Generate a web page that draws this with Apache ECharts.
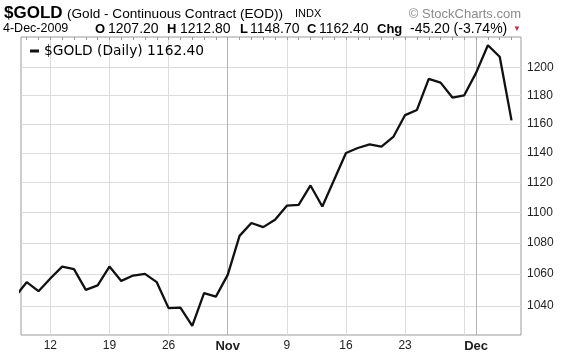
<!DOCTYPE html>
<html>
<head>
<meta charset="utf-8">
<script src="https://cdn.jsdelivr.net/npm/echarts@6/dist/echarts.min.js"></script>
<style>
  html, body { margin: 0; padding: 0; background: #fff; }
  #chart { width: 576px; height: 356px; }
</style>
</head>
<body>
<div id="chart"></div>
<script>
// trading days, 7-Oct-2009 .. 4-Dec-2009
var dates = [
  'Oct 7','Oct 8','Oct 9','Oct 12','Oct 13','Oct 14','Oct 15','Oct 16',
  'Oct 19','Oct 20','Oct 21','Oct 22','Oct 23','Oct 26','Oct 27','Oct 28','Oct 29','Oct 30',
  'Nov 2','Nov 3','Nov 4','Nov 5','Nov 6','Nov 9','Nov 10','Nov 11','Nov 12','Nov 13',
  'Nov 16','Nov 17','Nov 18','Nov 19','Nov 20','Nov 23','Nov 24','Nov 25','Nov 26','Nov 27',
  'Nov 30','Dec 1','Dec 2','Dec 3','Dec 4'
];
var closes = [
  1045.5, 1054.9, 1049.2, 1057.2, 1064.8, 1063.2, 1050.0, 1052.9,
  1064.8, 1055.7, 1059.1, 1060.2, 1054.9, 1038.6, 1038.9, 1027.6, 1048.0, 1045.8,
  1059.5, 1084.6, 1093.0, 1090.3, 1095.1, 1104.4, 1105.0, 1117.9, 1103.9, 1121.7,
  1139.9, 1143.3, 1145.8, 1144.2, 1150.9, 1166.1, 1169.7, 1191.7, 1189.0, 1178.4,
  1180.0, 1196.0, 1216.0, 1207.6, 1162.4
];
var labelDays = ['Oct 12','Oct 19','Oct 26','Nov 2','Nov 9','Nov 16','Nov 23','Dec 1'];
var labelTexts = ['12','19','26','Nov','9','16','23','Dec'];
var gridDays = ['Oct 12','Oct 19','Oct 26','Nov 2','Nov 9','Nov 16','Nov 23','Nov 30','Dec 1'];
var monthDays = ['Nov 2','Dec 1'];
var priceTicks = [1040, 1060, 1080, 1100, 1120, 1140, 1160, 1180, 1200];

var idx = function (d) { return dates.indexOf(d); };
var seriesData = closes.map(function (v, i) { return [i, v]; });
var allDays = dates.map(function (d, i) { return i; });

var xMin = 0.52, xMax = 42.8;
var font = '"Liberation Sans", Arial, sans-serif';

var txt = function (x, y, text, f, extra) {
  var style = { text: text, font: f, fill: '#000', verticalAlign: 'middle' };
  for (var k in (extra || {})) style[k] = extra[k];
  return { type: 'text', x: x, y: y, style: style };
};

var chart = echarts.init(document.getElementById('chart'));

var option = {
  backgroundColor: '#fff',
  animation: false,
  grid: {
    left: 21, top: 37, width: 500, height: 298,
    show: true, borderColor: '#9a9a9a', borderWidth: 1, backgroundColor: '#fff'
  },
  legend: {
    left: 25, top: 39,
    icon: 'rect', itemWidth: 9, itemHeight: 3, itemGap: 5,
    textStyle: { fontFamily: '"DejaVu Sans", Verdana, sans-serif', fontSize: 13.8, color: '#000', padding: [0, 0, 0, 0] },
    formatter: function (name) { return name + ' ' + closes[closes.length - 1].toFixed(2); },
    data: ['$GOLD (Daily)']
  },
  xAxis: [
    {
      type: 'value', min: xMin, max: xMax,
      axisLine: { show: false },
      axisTick: { show: false, customValues: gridDays.map(idx) },
      splitLine: { show: true, lineStyle: { color: '#dcdcdc', width: 1 } },
      axisLabel: {
        customValues: labelDays.map(idx),
        margin: 5,
        fontFamily: font, fontSize: 12, color: '#222',
        formatter: function (v) {
          var t = labelTexts[labelDays.indexOf(dates[Math.round(v)])];
          return (t === 'Nov' || t === 'Dec') ? '{b|' + t + '}' : t;
        },
        rich: { b: { fontFamily: font, fontSize: 13, fontWeight: 'bold', color: '#222' } }
      }
    },
    {
      type: 'value', min: xMin, max: xMax,
      axisLine: { show: false },
      axisTick: { show: true, inside: true, length: 3, customValues: allDays, lineStyle: { color: '#999' } },
      splitLine: { show: false },
      axisLabel: { show: false }
    },
    {
      type: 'value', min: xMin, max: xMax,
      axisLine: { show: false },
      axisTick: { show: false, customValues: monthDays.map(idx) },
      splitLine: { show: true, lineStyle: { color: '#b4b4b4', width: 1 } },
      axisLabel: { show: false }
    }
  ],
  yAxis: {
    type: 'log', logBase: 10, position: 'right',
    min: 1022, max: 1222,
    axisLine: { show: false },
    axisTick: { show: false, customValues: priceTicks },
    splitLine: { show: true, lineStyle: { color: '#dcdcdc', width: 1 } },
    axisLabel: {
      customValues: priceTicks,
      margin: 6,
      fontFamily: font, fontSize: 12, color: '#222',
      formatter: function (v) { return String(Math.round(v)); }
    }
  },
  graphic: [
    txt(4, 13, '$GOLD', 'bold 17px ' + font),
    txt(67, 14, '(Gold - Continuous Contract (EOD))', '13.6px ' + font),
    txt(295, 14, 'INDX', '11px ' + font),
    txt(521, 14, '\u00a9 StockCharts.com', '13px ' + font, { fill: '#8a8a8a', align: 'right' }),
    txt(3, 29, '4-Dec-2009', '12.5px ' + font),
    txt(95, 29, 'O', 'bold 13px ' + font),
    txt(108, 29, '1207.20', '14px ' + font),
    txt(167, 29, 'H', 'bold 13px ' + font),
    txt(180, 29, '1212.80', '14px ' + font),
    txt(240, 29, 'L', 'bold 13px ' + font),
    txt(250, 29, '1148.70', '14px ' + font),
    txt(307, 29, 'C', 'bold 13px ' + font),
    txt(319, 29, '1162.40', '14px ' + font),
    txt(377, 29, 'Chg', 'bold 13px ' + font),
    txt(410, 29, '-45.20 (-3.74%)', '14px ' + font),
    txt(513, 29, '\u25bc', '8px ' + font, { fill: '#c0304a' })
  ],
  series: [
    {
      name: '$GOLD (Daily)',
      type: 'line',
      xAxisIndex: 0,
      data: seriesData,
      showSymbol: false,
      symbol: 'none',
      clip: true,
      lineStyle: { color: '#111', width: 2.3 },
      itemStyle: { color: '#111' }
    }
  ]
};

chart.setOption(option);
</script>
</body>
</html>
